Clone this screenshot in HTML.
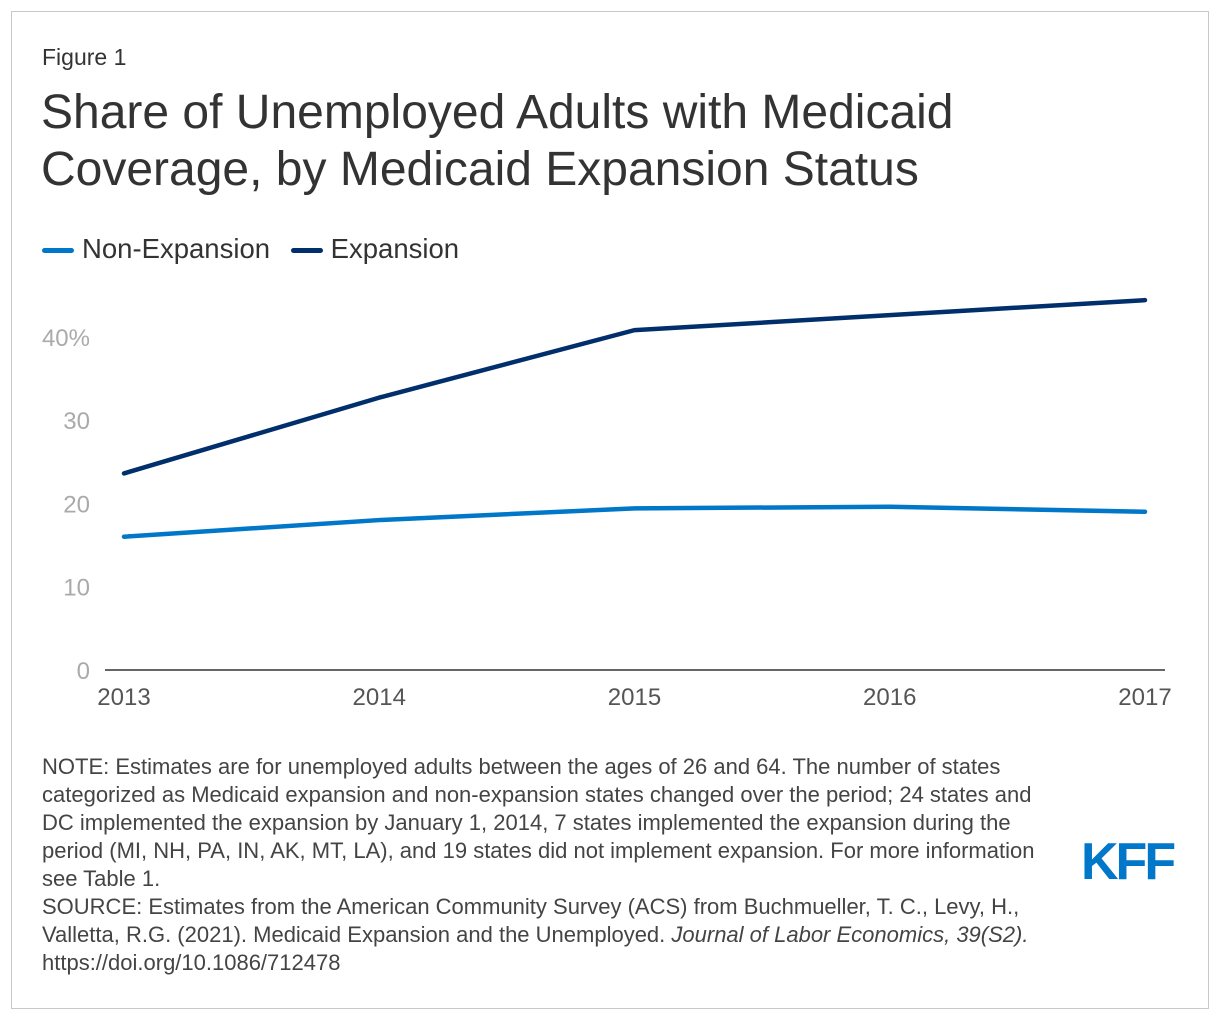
<!DOCTYPE html>
<html><head><meta charset="utf-8"><style>
body{margin:0;background:#fff;font-family:"Liberation Sans",Arial,sans-serif;}
#frame{position:absolute;left:11px;top:11px;width:1196px;height:996px;border:1px solid #c8c8c8;}
.t{position:absolute;color:#333;}
</style></head><body>
<div id="frame"></div>
<div class="t" style="left:42px;top:44px;font-size:23px;">Figure 1</div>
<div class="t" style="left:41px;top:84px;font-size:48px;line-height:57px;">Share of Unemployed Adults with Medicaid<br>Coverage, by Medicaid Expansion Status</div>
<div style="position:absolute;left:42px;top:233px;font-size:27.5px;color:#333;">
<span><span style="display:inline-block;width:32px;height:5px;background:#0077c8;border-radius:3px;vertical-align:middle;margin-right:8px;"></span>Non-Expansion</span>
<span style="margin-left:13px;"><span style="display:inline-block;width:32px;height:5px;background:#002f6c;border-radius:3px;vertical-align:middle;margin-right:8px;"></span>Expansion</span>
</div>
<svg id="chart" width="1220" height="740" style="position:absolute;left:0;top:0;"></svg>
<div class="t" style="left:42px;top:753px;font-size:22px;line-height:28px;width:1010px;color:#444;">NOTE: Estimates are for unemployed adults between the ages of 26 and 64. The number of states categorized as Medicaid expansion and non-expansion states changed over the period; 24 states and DC implemented the expansion by January 1, 2014, 7 states implemented the expansion during the period (MI, NH, PA, IN, AK, MT, LA), and 19 states did not implement expansion. For more information see Table 1.<br>SOURCE: Estimates from the American Community Survey (ACS) from Buchmueller, T. C., Levy, H., Valletta, R.G. (2021). Medicaid Expansion and the Unemployed. <i>Journal of Labor Economics, 39(S2).</i><br>https://doi.org/10.1086/712478</div>
<div style="position:absolute;left:1081px;top:834px;font-size:52px;font-weight:bold;color:#0077c8;letter-spacing:-3px;line-height:56px;">KFF</div>
<script>
const years=["2013","2014","2015","2016","2017"];
const expansion=[23.6,32.7,40.8,42.6,44.4];
const nonExpansion=[16.0,18.0,19.4,19.6,19.0];
const yTicks=[0,10,20,30,40];
const yTickLabels=["0","10","20","30","40%"];
const svg=document.getElementById('chart');
const NS='http://www.w3.org/2000/svg';
const x0=124,x1=1145,y0=670,pxPer=8.33;
function xs(i){return x0+(x1-x0)*i/(years.length-1);}
function ys(v){return y0-v*pxPer;}
function mk(tag,attrs){const e=document.createElementNS(NS,tag);for(const k in attrs)e.setAttribute(k,attrs[k]);svg.appendChild(e);return e;}
yTicks.forEach((v,i)=>{const t=mk('text',{x:90,y:ys(v)+9,'text-anchor':'end','font-size':24,fill:'#aaa','font-family':'Liberation Sans, sans-serif'});t.textContent=yTickLabels[i];

});
const ax=mk('line',{x1:105,x2:1165,y1:y0,y2:y0,stroke:'#333','stroke-width':1.5});


years.forEach((y,i)=>{const t=mk('text',{x:xs(i),y:705,'text-anchor':'middle','font-size':24,fill:'#555','font-family':'Liberation Sans, sans-serif'});t.textContent=y;

});
function line(vals,color,name){const p=mk('polyline',{points:vals.map((v,i)=>xs(i)+','+ys(v)).join(' '),fill:'none',stroke:color,'stroke-width':4.5,'stroke-linejoin':'round','stroke-linecap':'round'});

}
line(nonExpansion,'#0077c8','non-expansion-line');
line(expansion,'#002f6c','expansion-line');
</script>
</body></html>
